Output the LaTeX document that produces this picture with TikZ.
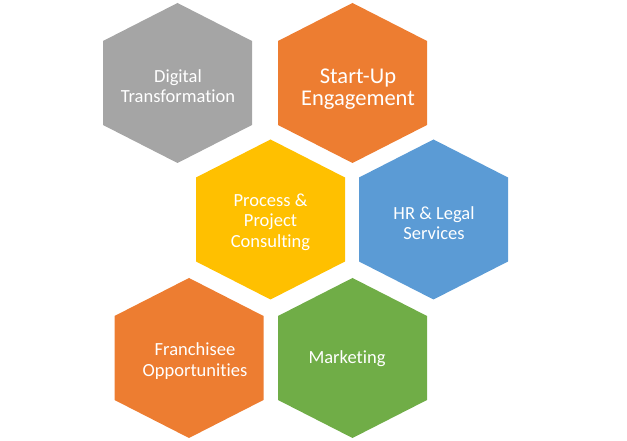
\documentclass[tikz,border=0pt]{standalone}
\usepackage{fontspec}
\setmainfont{Carlito}[Ligatures={NoCommon}]
\definecolor{hexgray}{HTML}{A5A5A5}
\definecolor{hexorange}{HTML}{ED7D31}
\definecolor{hexyellow}{HTML}{FFC000}
\definecolor{hexblue}{HTML}{5B9BD5}
\definecolor{hexgreen}{HTML}{70AD47}
\begin{document}
\begin{tikzpicture}[x=1pt,y=1pt,
  hexcell/.pic={\path[pic actions] (0,80) -- (74.5,42) -- (74.5,-42) -- (0,-80) -- (-74.5,-42) -- (-74.5,42) -- cycle;},
  hextext/.style={text=white,align=center,inner sep=0pt,font=\fontsize{18.5}{20.5}\selectfont},
  bigtext/.style={hextext,font=\fontsize{22.5}{22}\selectfont}]
\useasboundingbox (0,0) rectangle (627,441);
\pic[fill=hexgray]   at (177.5,358) {hexcell};
\pic[fill=hexorange] at (352.5,358) {hexcell};
\pic[fill=hexyellow] at (270.5,221.5) {hexcell};
\pic[fill=hexblue]   at (433.5,221.5) {hexcell};
\pic[fill=hexorange] at (189,83) {hexcell};
\pic[fill=hexgreen]  at (352.5,83) {hexcell};
\node[hextext] (digital) at (178,355) {Digital\\Transformation};
\node[bigtext] (startup) at (358,352) {Start-Up\\Engagement};
\node[hextext] (process) at (270.5,219) {Process \&\\Project\\Consulting};
\node[hextext] (hr) at (434,218) {HR \& Legal\\Services};
\node[hextext] (franchise) at (195,80) {Franchisee\\Opportunities};
\node[hextext] (marketing) at (347,82) {Marketing};
\end{tikzpicture}
\end{document}
